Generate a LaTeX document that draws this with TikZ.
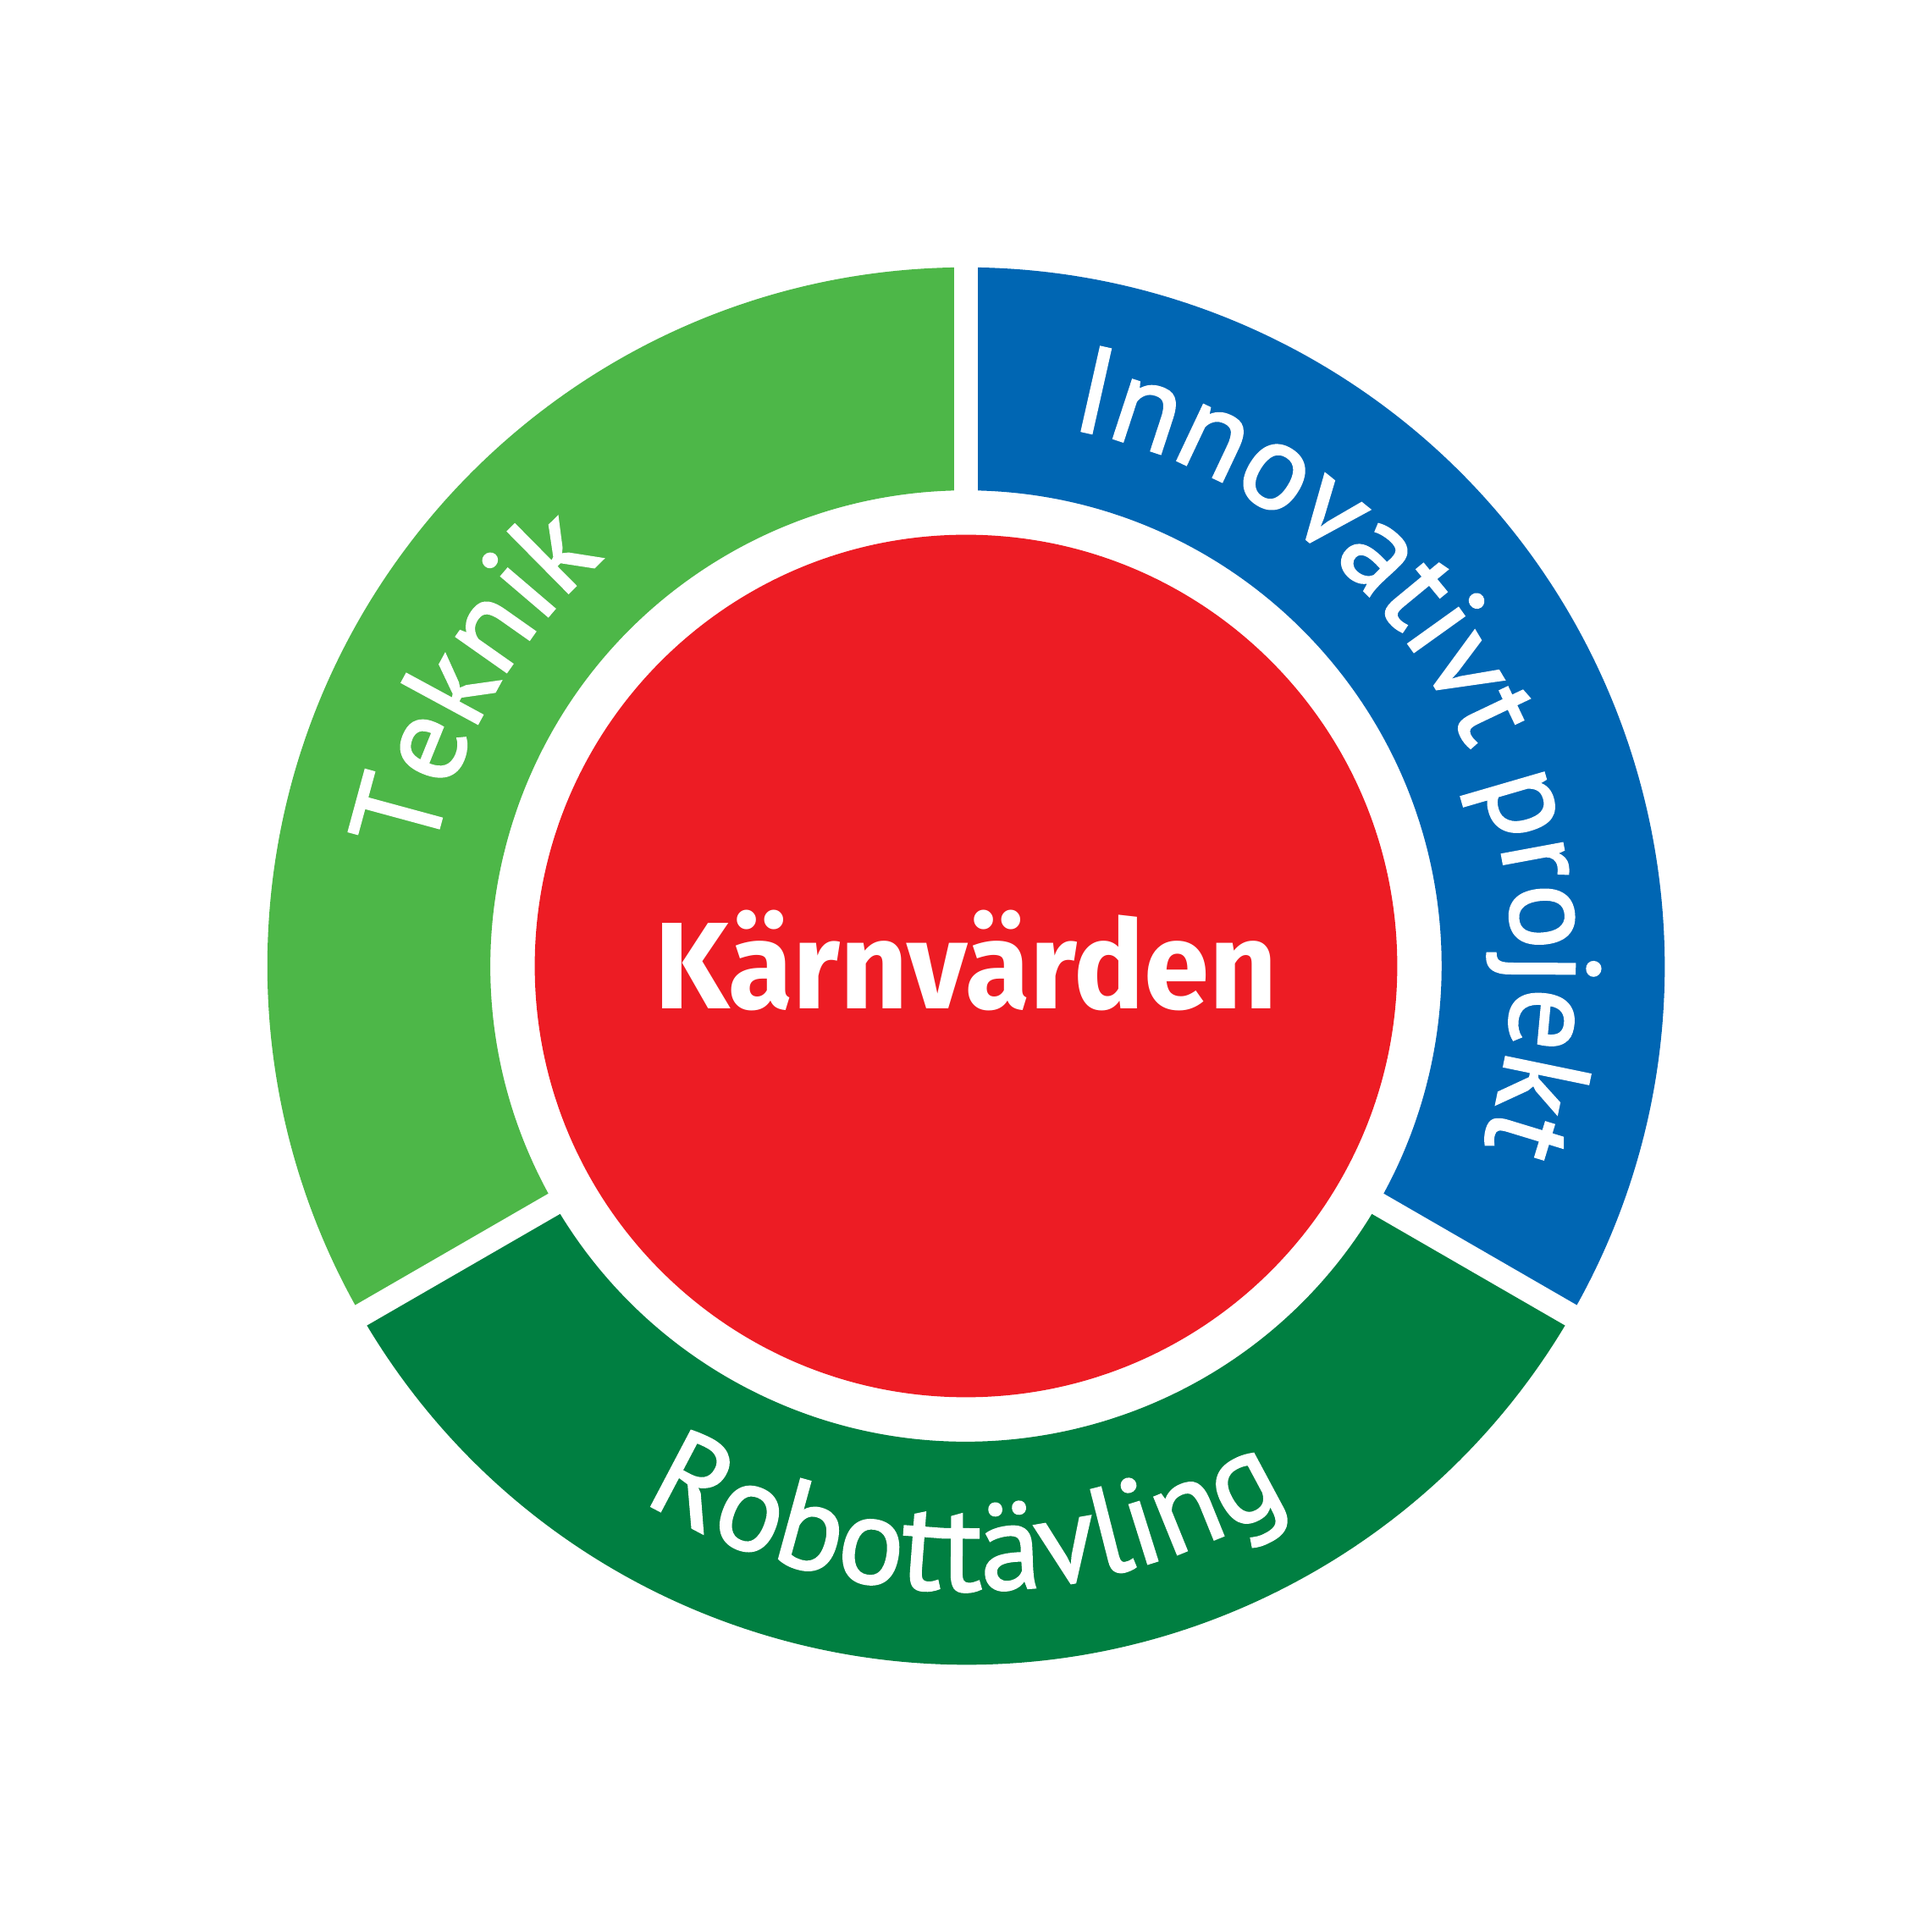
\documentclass[tikz,border=0pt]{standalone}
\usepackage{fontspec}
\setmainfont[FakeBold=1.6]{PT Sans}
\newfontfamily\kvfont[FakeStretch=0.955]{Fira Sans}
\usetikzlibrary{decorations.text}
\definecolor{teknikgreen}{HTML}{4DB748}
\definecolor{robotgreen}{HTML}{007F41}
\definecolor{innoblue}{HTML}{0066B3}
\definecolor{kvred}{HTML}{ED1C24}
\newcommand{\ringfont}{\color{white}\fontsize{28.5}{30}\selectfont}
\begin{document}
\begin{tikzpicture}
  [ringtext/.style={decorate,decoration={text along path,text align=center,
     text={|\ringfont|#1}}}]
  \useasboundingbox (-7.84,-7.84) rectangle (7.84,7.84);
  % the three ring segments
  \foreach \start/\col in {90/teknikgreen,210/robotgreen,330/innoblue}
    \fill[\col] (\start:5.67) arc[start angle=\start,delta angle=120,radius=5.67]
      -- (\start+120:3.86) arc[start angle=\start+120,delta angle=-120,radius=3.86] -- cycle;
  \foreach \a in {90,210,330}
    \draw[white,line width=0.19cm] (0,0) -- (\a:6);
  \node[circle,fill=kvred,minimum size=7cm,inner sep=0pt] (core) at (0,0) {};
  \node[anchor=base,text=white,font=\kvfont\bfseries\fontsize{28.5}{30}\selectfont] (kv) at (0,-0.35) {Kärnvärden};
  % labels along the ring
  \path[ringtext=Teknik] (210:4.42) arc[start angle=210,end angle=90,radius=4.42];
  \path[ringtext=Innovativt projekt] (90:4.44) arc[start angle=90,end angle=-30,radius=4.44];
  \path[ringtext=Robottävling] (209:5.07) arc[start angle=209,end angle=331,radius=5.07];
\end{tikzpicture}
\end{document}
